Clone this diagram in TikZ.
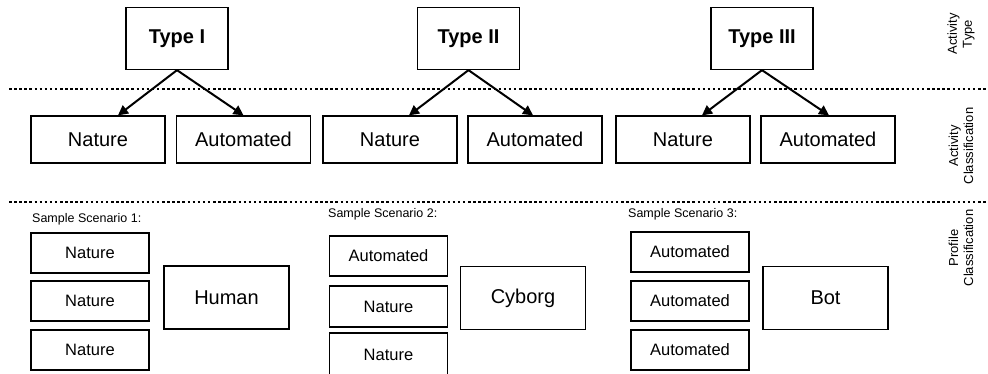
\documentclass[tikz,border=0pt]{standalone}
\usepackage{fontspec}
\setmainfont{Liberation Sans}
\usetikzlibrary{arrows.meta}
\begin{document}
\begin{tikzpicture}[x=1pt,y=-1pt,
  typebox/.style={draw, line width=1.3pt, minimum width=102pt, minimum height=62pt, inner sep=0pt, font=\fontsize{20}{24}\selectfont\bfseries},
  classbox/.style={draw, line width=1.3pt, minimum width=134pt, minimum height=47pt, inner sep=0pt, font=\fontsize{20}{24}\selectfont},
  actbox/.style={draw, line width=1.3pt, minimum width=118pt, minimum height=40pt, inner sep=0pt, font=\fontsize{16.5}{20}\selectfont},
  profbox/.style={draw, line width=1.3pt, minimum width=125pt, minimum height=63pt, inner sep=0pt, font=\fontsize{20}{24}\selectfont},
  scen/.style={anchor=west, inner sep=0pt, font=\fontsize{12.5}{15}\selectfont},
  layer/.style={rotate=90, align=center, inner sep=0pt, font=\fontsize{13}{15}\selectfont},
  sep/.style={line width=2.5pt, dash pattern=on 2.5pt off 2.6pt},
  link/.style={line width=2pt, -{Triangle[length=10pt,width=10pt]}}
]
\useasboundingbox (0,0) rectangle (988,374);

% layer separators
\coordinate (s1a) at (9,89);   \coordinate (s1b) at (988,89);
\coordinate (s2a) at (9,202);  \coordinate (s2b) at (988,202);
\draw[sep] (s1a) -- (s1b);
\draw[sep] (s2a) -- (s2b);

% layer captions
\node[layer] (capA) at (961,34)  {Activity\\Type};
\node[layer] (capB) at (961,146) {Activity\\Classification};
\node[layer] (capC) at (961,248) {Profile\\Classification};

% activity types
\node[typebox] (t1) at (177,38.5)   {Type I};
\node[typebox] (t2) at (468.5,38.5) {Type II};
\node[typebox] (t3) at (762,38.5)   {Type III};

% activity classification
\node[classbox] (n1) at (98,139.5)  {Nature};
\node[classbox] (a1) at (243.5,139.5) {Automated};
\node[classbox] (n2) at (390,139.5) {Nature};
\node[classbox] (a2) at (535,139.5) {Automated};
\node[classbox] (n3) at (683,139.5) {Nature};
\node[classbox] (a3) at (828,139.5) {Automated};

\draw[link] (t1.south) -- ([xshift=20pt]n1.north);
\draw[link] (t1.south) -- (a1.north);
\draw[link] (t2.south) -- ([xshift=19pt]n2.north);
\draw[link] (t2.south) -- ([xshift=-2pt]a2.north);
\draw[link] (t3.south) -- ([xshift=19pt]n3.north);
\draw[link] (t3.south) -- ([xshift=1pt]a3.north);

% scenario 1
\node[scen] (sc1) at (32,219) {Sample Scenario 1:};
\node[actbox] (p11) at (90,253) {Nature};
\node[actbox] (p12) at (90,301) {Nature};
\node[actbox] (p13) at (90,350) {Nature};
\node[profbox] (hum) at (226.5,297.5) {Human};

% scenario 2
\node[scen] (sc2) at (328,214) {Sample Scenario 2:};
\node[actbox] (p21) at (388.5,256) {Automated};
\node[actbox, minimum height=41pt] (p22) at (388.5,306.5) {Nature};
\node[actbox, minimum height=43pt] (p23) at (388.5,354.5) {Nature};
\node[profbox] (cyb) at (523,298) {Cyborg};

% scenario 3
\node[scen] (sc3) at (628,214) {Sample Scenario 3:};
\node[actbox] (p31) at (690,252) {Automated};
\node[actbox] (p32) at (690,301) {Automated};
\node[actbox] (p33) at (690,350) {Automated};
\node[profbox] (bot) at (825.5,298) {Bot};
\end{tikzpicture}
\end{document}
